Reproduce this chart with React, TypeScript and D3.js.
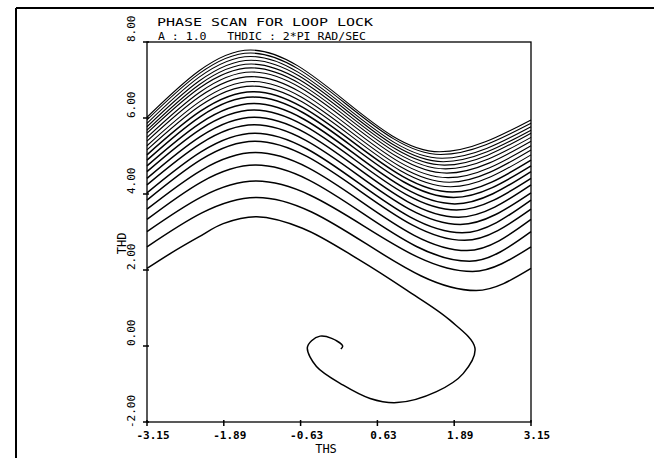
import React from "react";
import * as d3 from "d3";

// one trajectory, wrapped at THS = +-pi; each wave is one pass across the window
// values (THD at left edge, peak, trough)
const leftThd = [6.02, 5.95, 5.86, 5.77, 5.68, 5.6, 5.49, 5.39, 5.27, 5.16, 5.03, 4.89, 4.74, 4.59, 4.41, 4.24, 4.03, 3.84, 3.6, 3.33, 3.01, 2.61, 2.04];
const peakThd = [7.79, 7.71, 7.62, 7.52, 7.42, 7.32, 7.21, 7.09, 6.96, 6.84, 6.69, 6.55, 6.38, 6.21, 6.02, 5.82, 5.6, 5.39, 5.09, 4.76, 4.34, 3.91];
const peakThs = [-1.45, -1.45, -1.45, -1.44, -1.44, -1.44, -1.43, -1.43, -1.42, -1.42, -1.41, -1.41, -1.4, -1.4, -1.39, -1.39, -1.38, -1.38, -1.37, -1.37, -1.36, -1.35];
const troughThd = [5.11, 5.04, 4.94, 4.85, 4.76, 4.66, 4.55, 4.43, 4.31, 4.19, 4.05, 3.91, 3.74, 3.58, 3.39, 3.2, 2.98, 2.78, 2.51, 2.23, 1.96, 1.46];
const troughThs = [1.65, 1.67, 1.69, 1.71, 1.73, 1.75, 1.77, 1.79, 1.81, 1.83, 1.86, 1.88, 1.9, 1.93, 1.96, 1.99, 2.02, 2.06, 2.1, 2.14, 2.19, 2.25];

// last pass: captured into the spiral
const captureThs = [-3.15, -2.75, -2.3, -1.9, -1.35, -0.6, 0.34, 1.11, 1.82, 2.23, 2.04, 1.6, 0.95, 0.51, 0.07, -0.37, -0.52, -0.45, -0.31, -0.12, 0.06, 0.03];
const captureThd = [2.04, 2.45, 2.87, 3.22, 3.4, 3.1, 2.26, 1.47, 0.68, -0.05, -0.72, -1.2, -1.49, -1.38, -1.03, -0.54, -0.05, 0.14, 0.26, 0.2, 0.0, -0.08];

const xTicks = [-3.15, -1.89, -0.63, 0.63, 1.89, 3.15];
const xTickLabels = ["-3.15", "-1.89", "-0.63", "0.63", "1.89", "3.15"];
const yTicks = [-2, 0, 2, 4, 6, 8];
const yTickLabels = ["-2.00", "0.00", "2.00", "4.00", "6.00", "8.00"];

const PI = 3.15;

export default function App() {
  const width = 654, height = 458;
  const x = d3.scaleLinear().domain([-3.15, 3.15]).range([147, 531]);
  const y = d3.scaleLinear().domain([-2, 8]).range([422, 42]);

  const wave = d3.line<[number, number]>()
    .x(d => x(d[0]))
    .y(d => y(d[1]))
    .curve(d3.curveMonotoneX);

  const spiral = d3.line<[number, number]>()
    .x(d => x(d[0]))
    .y(d => y(d[1]))
    .curve(d3.curveCatmullRom.alpha(0.5));

  const waves = peakThd.map((p, i) => {
    const pts: [number, number][] = [
      [-PI, leftThd[i]],
      [peakThs[i], p],
      [troughThs[i], troughThd[i]],
      [PI, leftThd[i + 1]],
    ];
    return wave(pts) || "";
  });
  const capture = spiral(captureThs.map((t, i) => [t, captureThd[i]] as [number, number])) || "";

  const font = "'DejaVu Sans Mono', monospace";
  const x0 = 147, x1 = 531, y0 = 422, y1 = 42;

  return (
    <svg width={width} height={height} style={{ position: "absolute", left: 0, top: 0, background: "#fff" }}>
      {/* page border */}
      <line x1={16} y1={8} x2={654} y2={8} stroke="#000" strokeWidth={2} />
      <line x1={16} y1={8} x2={16} y2={458} stroke="#000" strokeWidth={2} />

      {/* title */}
      <text x={157} y={26} fontFamily={font} fontSize={11} textLength={216} lengthAdjust="spacingAndGlyphs">PHASE SCAN FOR LOOP LOCK</text>
      <text x={158} y={39.5} fontFamily={font} fontSize={11} textLength={208} lengthAdjust="spacingAndGlyphs" style={{ whiteSpace: "pre" }}>{"A : 1.0   THDIC : 2*PI RAD/SEC"}</text>

      {/* frame */}
      <rect x={x0} y={y1} width={x1 - x0} height={y0 - y1} fill="none" stroke="#000" strokeWidth={1.3} />

      {/* x ticks */}
      {xTicks.map((t, i) => (
        <g key={"xt" + i}>
          <line x1={x(t)} x2={x(t)} y1={y0 - 2} y2={y0 + 4} stroke="#000" strokeWidth={1.5} />
          <text x={x(t) + 6} y={439} textAnchor="middle" fontFamily={font} fontWeight="bold" fontSize={11}>{xTickLabels[i]}</text>
        </g>
      ))}
      <text x={326} y={453} textAnchor="middle" fontFamily={font} fontSize={12}>THS</text>

      {/* y ticks */}
      {yTicks.map((t, i) => (
        <g key={"yt" + i}>
          <line x1={x0 - 4} x2={x0 + 2} y1={y(t)} y2={y(t)} stroke="#000" strokeWidth={1.5} />
          <text transform={`translate(135,${y(t) + (t < 0 ? 6 : 0)}) rotate(-90)`} fontFamily={font} fontSize={11}>{yTickLabels[i]}</text>
        </g>
      ))}
      <text transform={`translate(126,${y(2.7)}) rotate(-90)`} textAnchor="middle" fontFamily={font} fontSize={12}>THD</text>

      {/* trajectory */}
      <g fill="none" stroke="#000" strokeLinejoin="round">
        {waves.map((d, i) => (
          <path key={"w" + i} d={d} strokeWidth={i < 10 ? 1.1 : 1.5} />
        ))}
        <path d={capture} strokeWidth={1.5} />
      </g>
    </svg>
  );
}
